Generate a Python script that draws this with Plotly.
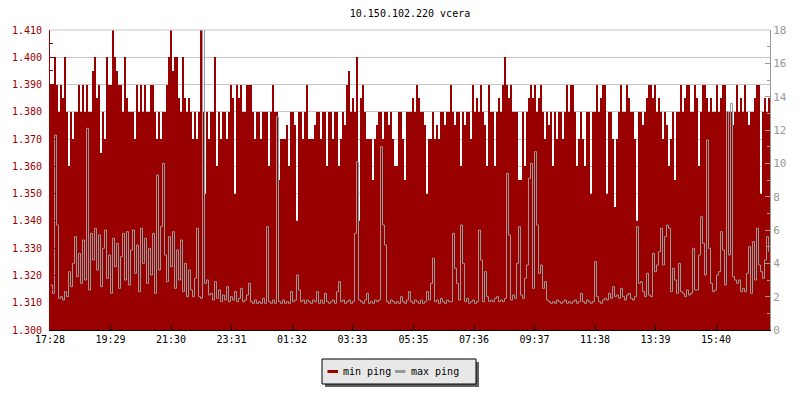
import plotly.graph_objects as go
import pandas as pd

title_text = "10.150.102.220 vcera"
start_time = "2024-05-01 17:28"
end_time = "2024-05-02 17:28"
step_minutes = 4

min_ping = [
    1.39, 1.39, 1.40, 1.39, 1.38, 1.39, 1.385, 1.40, 1.38, 1.36, 1.38, 1.37, 1.38, 1.38, 1.39, 1.38, 1.39, 1.38, 1.39, 1.38,
    1.38, 1.395, 1.40, 1.385, 1.39, 1.365, 1.38, 1.37, 1.40, 1.39, 1.39, 1.41, 1.40, 1.395, 1.39, 1.39, 1.38, 1.40, 1.385, 1.38,
    1.38, 1.38, 1.37, 1.39, 1.38, 1.39, 1.38, 1.39, 1.38, 1.38, 1.39, 1.39, 1.38, 1.37, 1.38, 1.37, 1.38, 1.38, 1.39, 1.40,
    1.41, 1.395, 1.40, 1.40, 1.385, 1.38, 1.40, 1.385, 1.38, 1.385, 1.38, 1.37, 1.38, 1.37, 1.38, 1.41, 1.38, 1.35, 1.38, 1.37,
    1.38, 1.38, 1.40, 1.36, 1.38, 1.37, 1.38, 1.38, 1.37, 1.38, 1.39, 1.385, 1.35, 1.39, 1.385, 1.39, 1.38, 1.38, 1.39, 1.39,
    1.39, 1.38, 1.37, 1.38, 1.38, 1.37, 1.38, 1.38, 1.38, 1.36, 1.38, 1.39, 1.38, 1.38, 1.355, 1.37, 1.37, 1.37, 1.375, 1.36,
    1.38, 1.38, 1.375, 1.34, 1.38, 1.38, 1.37, 1.38, 1.39, 1.37, 1.37, 1.37, 1.375, 1.38, 1.38, 1.37, 1.38, 1.38, 1.36, 1.38,
    1.38, 1.37, 1.38, 1.38, 1.36, 1.37, 1.38, 1.375, 1.39, 1.395, 1.38, 1.385, 1.38, 1.40, 1.34, 1.385, 1.39, 1.38, 1.37, 1.37,
    1.37, 1.355, 1.37, 1.375, 1.38, 1.38, 1.37, 1.38, 1.38, 1.375, 1.38, 1.37, 1.36, 1.36, 1.38, 1.38, 1.37, 1.355, 1.38, 1.38,
    1.38, 1.385, 1.38, 1.39, 1.385, 1.38, 1.38, 1.375, 1.35, 1.37, 1.37, 1.38, 1.37, 1.375, 1.37, 1.38, 1.38, 1.375, 1.38, 1.38,
    1.39, 1.38, 1.375, 1.38, 1.38, 1.36, 1.38, 1.375, 1.38, 1.38, 1.37, 1.39, 1.38, 1.385, 1.38, 1.39, 1.38, 1.375, 1.36, 1.39,
    1.38, 1.38, 1.36, 1.38, 1.385, 1.38, 1.39, 1.40, 1.39, 1.385, 1.39, 1.38, 1.38, 1.38, 1.355, 1.355, 1.38, 1.36, 1.38, 1.385,
    1.39, 1.385, 1.39, 1.38, 1.385, 1.39, 1.38, 1.37, 1.38, 1.375, 1.38, 1.36, 1.38, 1.37, 1.38, 1.38, 1.37, 1.38, 1.39, 1.38,
    1.39, 1.39, 1.38, 1.36, 1.37, 1.38, 1.37, 1.36, 1.38, 1.38, 1.35, 1.38, 1.38, 1.39, 1.38, 1.385, 1.39, 1.39, 1.35, 1.38,
    1.38, 1.37, 1.345, 1.37, 1.38, 1.39, 1.38, 1.38, 1.39, 1.385, 1.38, 1.38, 1.37, 1.34, 1.38, 1.38, 1.375, 1.38, 1.385, 1.39,
    1.39, 1.385, 1.39, 1.38, 1.385, 1.38, 1.37, 1.38, 1.375, 1.36, 1.37, 1.38, 1.355, 1.38, 1.38, 1.39, 1.38, 1.385, 1.39, 1.39,
    1.38, 1.38, 1.39, 1.385, 1.36, 1.38, 1.39, 1.39, 1.385, 1.38, 1.385, 1.38, 1.38, 1.39, 1.38, 1.385, 1.39, 1.39, 1.38, 1.38,
    1.38, 1.375, 1.38, 1.39, 1.38, 1.385, 1.38, 1.39, 1.38, 1.375, 1.38, 1.38, 1.385, 1.39, 1.39, 1.35, 1.38, 1.385, 1.38, 1.385,
]

max_ping = [
    2.7, 2.2, 11.7, 6.3, 1.9, 2.0, 1.8, 2.3, 2.0, 3.5, 2.6, 4.0, 5.6, 3.2, 4.6, 2.8, 5.4, 3.0, 12.1, 2.4,
    5.8, 4.2, 6.1, 3.6, 5.7, 2.6, 4.9, 6.0, 3.1, 4.5, 2.2, 5.5, 3.8, 5.2, 2.5, 4.4, 5.8, 3.0, 5.9, 2.7,
    4.8, 6.0, 3.4, 5.1, 2.3, 6.1, 4.0, 5.5, 2.8, 4.9, 3.3, 5.8, 2.2, 9.3, 3.6, 6.2, 10.0, 4.5, 2.9, 5.6,
    3.8, 5.9, 2.5, 4.8, 3.0, 5.4, 2.3, 4.0, 2.0, 3.6, 2.4, 2.0, 3.1, 6.1, 2.0, 1.9, 19.0, 2.8, 3.0, 2.1,
    2.2, 1.8, 2.9, 1.9, 2.4, 1.7, 2.1, 1.8, 2.6, 1.7, 2.0, 1.8, 2.3, 1.7, 1.9, 2.5, 1.7, 1.8, 2.1, 2.8,
    1.7, 1.6, 1.8, 1.6, 1.7, 1.6, 1.9, 1.6, 6.2, 1.7, 1.6, 1.8, 1.6, 12.8, 1.7, 1.6, 1.8, 1.6, 1.7, 1.6,
    2.3, 1.7, 1.8, 3.3, 2.4, 1.7, 1.8, 1.6, 1.8, 1.7, 1.6, 1.8, 1.7, 2.3, 1.6, 1.8, 1.6, 2.2, 1.7, 1.6,
    1.7, 1.8, 1.6, 2.3, 2.9, 1.7, 1.8, 1.6, 1.7, 1.8, 1.6, 1.7, 5.8, 10.1, 1.8, 1.7, 1.6, 1.8, 2.2, 1.6,
    1.7, 1.6, 1.8, 1.7, 1.8, 11.0, 6.3, 5.1, 1.7, 1.6, 1.8, 1.7, 1.6, 1.7, 1.6, 2.0, 1.7, 1.6, 1.8, 2.3,
    1.7, 1.6, 1.8, 1.7, 1.6, 1.8, 1.6, 1.7, 2.3, 1.8, 2.8, 4.3, 1.7, 1.8, 1.6, 1.9, 1.7, 1.6, 1.8, 1.7,
    1.7, 5.8, 3.7, 2.8, 1.8, 6.3, 4.0, 1.7, 1.9, 1.6, 1.7, 1.8, 1.6, 1.7, 6.0, 4.2, 1.7, 3.5, 2.0, 1.7,
    1.8, 1.7, 1.9, 2.0, 1.7, 1.8, 1.7, 1.9, 9.4, 5.7, 1.8, 2.1, 1.9, 4.0, 6.2, 2.1, 1.9, 3.1, 3.9, 9.1,
    10.0, 2.5, 10.7, 6.3, 3.4, 3.9, 2.5, 2.9, 1.8, 1.7, 1.6, 1.7, 1.6, 1.8, 1.7, 1.6, 1.7, 1.8, 1.6, 1.7,
    1.6, 1.7, 1.8, 1.6, 1.7, 2.2, 1.7, 1.6, 1.8, 1.7, 1.6, 1.7, 4.1, 2.0, 1.7, 1.6, 1.8, 1.9, 1.8, 2.2,
    1.9, 2.6, 2.0, 2.1, 1.9, 2.5, 2.0, 1.8, 2.1, 2.2, 1.9, 1.8, 2.0, 6.2, 2.8, 2.9, 2.3, 2.0, 3.4, 2.1,
    2.0, 4.6, 3.5, 3.9, 4.7, 6.1, 3.9, 5.6, 6.3, 6.1, 2.3, 3.7, 3.0, 2.2, 4.0, 2.3, 2.2, 2.0, 2.4, 2.1,
    2.2, 4.9, 2.4, 2.4, 4.5, 6.8, 5.2, 3.3, 11.4, 4.9, 2.8, 2.3, 2.4, 3.3, 3.5, 5.9, 4.8, 2.7, 13.1, 4.5,
    13.6, 3.2, 3.0, 2.8, 3.0, 2.3, 2.5, 2.3, 3.4, 5.0, 2.2, 5.3, 3.0, 6.1, 3.9, 3.5, 3.1, 4.2, 5.6, 4.7,
]

tick_times = [
    "2024-05-01 17:28", "2024-05-01 19:29", "2024-05-01 21:30", "2024-05-01 23:31",
    "2024-05-02 01:32", "2024-05-02 03:33", "2024-05-02 05:35", "2024-05-02 07:36",
    "2024-05-02 09:37", "2024-05-02 11:38", "2024-05-02 13:39", "2024-05-02 15:40",
]
tick_labels = ["17:28", "19:29", "21:30", "23:31", "01:32", "03:33",
               "05:35", "07:36", "09:37", "11:38", "13:39", "15:40"]

series_names = ["min ping", "max ping"]
RED = "#990000"
GRAY = "#999999"
FONT = "DejaVu Sans Mono"

t_start = pd.date_range(start_time, periods=len(min_ping), freq=f"{step_minutes}min")
t_center = t_start + pd.Timedelta(minutes=step_minutes / 2)
# half-pixel shift (1 minute = 0.5 px) so the 1px step line lands on pixel centres
t_line = t_start + pd.Timedelta(minutes=1)

fig = go.Figure()
fig.add_trace(go.Bar(
    x=t_center, y=min_ping, width=step_minutes * 60 * 1000,
    marker=dict(color=RED, line=dict(width=0)),
    name=series_names[0], showlegend=False, hoverinfo="skip",
))
fig.add_trace(go.Scatter(
    x=t_line, y=max_ping, yaxis="y2", mode="lines",
    line=dict(color=GRAY, width=1, shape="hv"),
    name=series_names[1], showlegend=False, hoverinfo="skip",
))

# page body has an 8px margin: figure 792x392 so the plot area sits at
# screen x 50..770, y 30..330
FIG_W, FIG_H = 792, 392
fig.update_layout(
    width=FIG_W, height=FIG_H,
    margin=dict(l=42, r=30, t=22, b=70, autoexpand=False),
    paper_bgcolor="white", plot_bgcolor="white",
    bargap=0, bargroupgap=0,
    font=dict(family=FONT, size=10, color="black"),
    title=dict(text=title_text, x=0.5, xref="paper", xanchor="center",
               y=1 - 5 / FIG_H, yanchor="middle",
               font=dict(family=FONT, size=10, color="black")),
    xaxis=dict(
        type="date", range=[start_time, end_time], automargin=False,
        tickmode="array", tickvals=tick_times, ticktext=tick_labels,
        ticks="inside", ticklen=5, tickcolor="black",
        showline=True, linecolor="black", linewidth=1,
        showgrid=False, zeroline=False,
        tickfont=dict(family=FONT, size=10, color="black"),
    ),
    yaxis=dict(
        range=[1.30, 1.41], tick0=1.30, dtick=0.01, tickformat=".3f",
        automargin=False, ticklabelstandoff=5,
        ticks="inside", ticklen=5, tickcolor=RED,
        showline=True, linecolor=RED, linewidth=1,
        showgrid=True, gridcolor="#c6c6c6", gridwidth=1, zeroline=False,
        tickfont=dict(family=FONT, size=10, color=RED),
        minor=dict(dtick=0.005, tick0=1.30, ticks="inside", ticklen=3,
                   tickcolor=RED, showgrid=False),
    ),
    yaxis2=dict(
        overlaying="y", side="right", range=[0, 18], tick0=0, dtick=2,
        automargin=False, ticklabelstandoff=0,
        ticks="inside", ticklen=5, tickcolor=GRAY,
        showline=True, linecolor=GRAY, linewidth=1,
        showgrid=False, zeroline=False,
        tickfont=dict(family=FONT, size=11, color=GRAY),
        minor=dict(dtick=1, tick0=0, ticks="inside", ticklen=3,
                   tickcolor=GRAY, showgrid=False),
    ),
)

# Legend box drawn by hand (rrdtool style with drop shadow); coordinates in screen px
PL, PT, PW, PH = 50, 30, 720, 300


def px(xp):
    return (xp - PL) / PW


def py(yp):
    return (PT + PH - yp) / PH


shapes = [
    dict(type="line", xref="paper", yref="paper", x0=0, x1=1, y0=1, y1=1,
         line=dict(color="#c6c6c6", width=1), layer="above"),
    dict(type="rect", xref="paper", yref="paper",
         x0=px(325), x1=px(479), y0=py(362), y1=py(387),
         fillcolor="#606060", line=dict(width=0), layer="above"),
    dict(type="rect", xref="paper", yref="paper",
         x0=px(322), x1=px(476), y0=py(359), y1=py(384),
         fillcolor="#e8e8e8", line=dict(color="black", width=1), layer="above"),
    dict(type="line", xref="paper", yref="paper",
         x0=px(327.5), x1=px(338), y0=py(371.5), y1=py(371.5),
         line=dict(color=RED, width=3), layer="above"),
    dict(type="line", xref="paper", yref="paper",
         x0=px(395), x1=px(405.5), y0=py(371.5), y1=py(371.5),
         line=dict(color=GRAY, width=3), layer="above"),
]
annotations = [
    dict(text=series_names[0], xref="paper", yref="paper", x=px(340.5), y=py(371),
         xanchor="left", yanchor="middle", showarrow=False,
         font=dict(family=FONT, size=10, color="black")),
    dict(text=series_names[1], xref="paper", yref="paper", x=px(408.5), y=py(371),
         xanchor="left", yanchor="middle", showarrow=False,
         font=dict(family=FONT, size=10, color="black")),
]
fig.update_layout(shapes=shapes, annotations=annotations)

fig.write_html("out.html")
